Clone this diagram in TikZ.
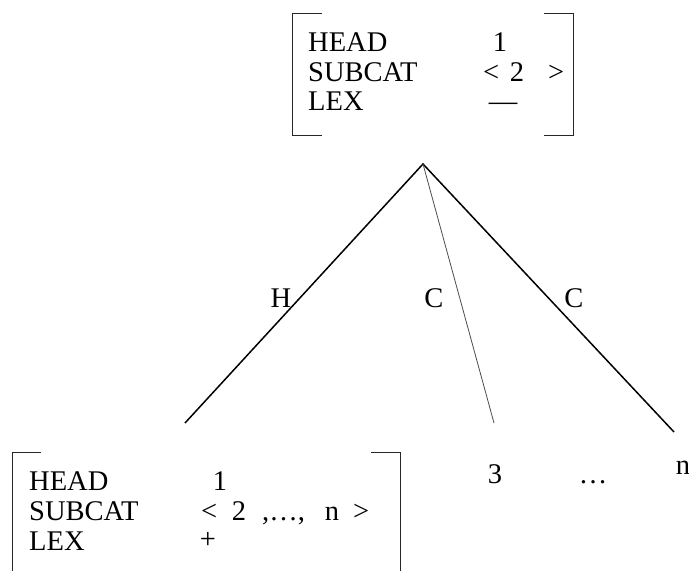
\documentclass[tikz,border=0pt]{standalone}
\usepackage{fontspec}
\setmainfont{Liberation Serif}
\begin{document}
\begin{tikzpicture}[x=1pt,y=-1pt,
  txt/.style={inner sep=0pt,font=\fontsize{28.5}{30}\selectfont},
  kw/.style={txt,anchor=base west},
  val/.style={txt,anchor=base},
  lbl/.style={txt,anchor=center},
  bracket/.style={line width=1pt,draw=black!85},
  branch/.style={line width=1.5pt},
  thinbranch/.style={line width=0.8pt,draw=black!70}]
\useasboundingbox (0,0) rectangle (689,571);
% top feature structure
\draw[bracket] (322,13) -- (292,13) -- (292,135) -- (322,135);
\draw[bracket] (544,13) -- (573,13) -- (573,135) -- (544,135);
\node[kw] (th) at (308,51) {HEAD};
\node[kw] (ts) at (308,81) {SUBCAT};
\node[kw] (tl) at (308,110) {LEX};
\node[val] (th1) at (500,51) {1};
\node[kw] (tlt) at (483,81) {<};
\node[val] (t2) at (517,81) {2};
\node[kw] (tgt) at (548,81) {>};
\node[val] (tdash) at (503,110) {—};
% tree
\coordinate (apex) at (423,164);
\coordinate (hend) at (185,423);
\coordinate (c1end) at (494,423);
\coordinate (c2end) at (674,432);
\draw[branch] (hend) -- (apex) -- (c2end);
\draw[thinbranch] (apex) -- (c1end);
\node[lbl] (lh) at (281,298) {H};
\node[lbl] (lc1) at (434,298) {C};
\node[lbl] (lc2) at (574,298) {C};
% daughters
\node[val] (d3) at (495,483) {3};
\node[val] (ddots) at (593,483) {…};
\node[val] (dn) at (683,474) {n};
% bottom feature structure
\draw[bracket] (41,452) -- (12,452) -- (12,575);
\draw[bracket] (371,452) -- (400,452) -- (400,575);
\node[kw] (bh) at (29,490) {HEAD};
\node[kw] (bs) at (29,520) {SUBCAT};
\node[kw] (bl) at (29,550) {LEX};
\node[val] (bh1) at (220,490) {1};
\node[kw] (blt) at (201,520) {<};
\node[val] (b2) at (239,520) {2};
\node[kw] (bdots) at (262,520) {,…,};
\node[val] (bn) at (332,520) {n};
\node[kw] (bgt) at (353,520) {>};
\node[val] (bplus) at (208,548) {+};
\end{tikzpicture}
\end{document}
